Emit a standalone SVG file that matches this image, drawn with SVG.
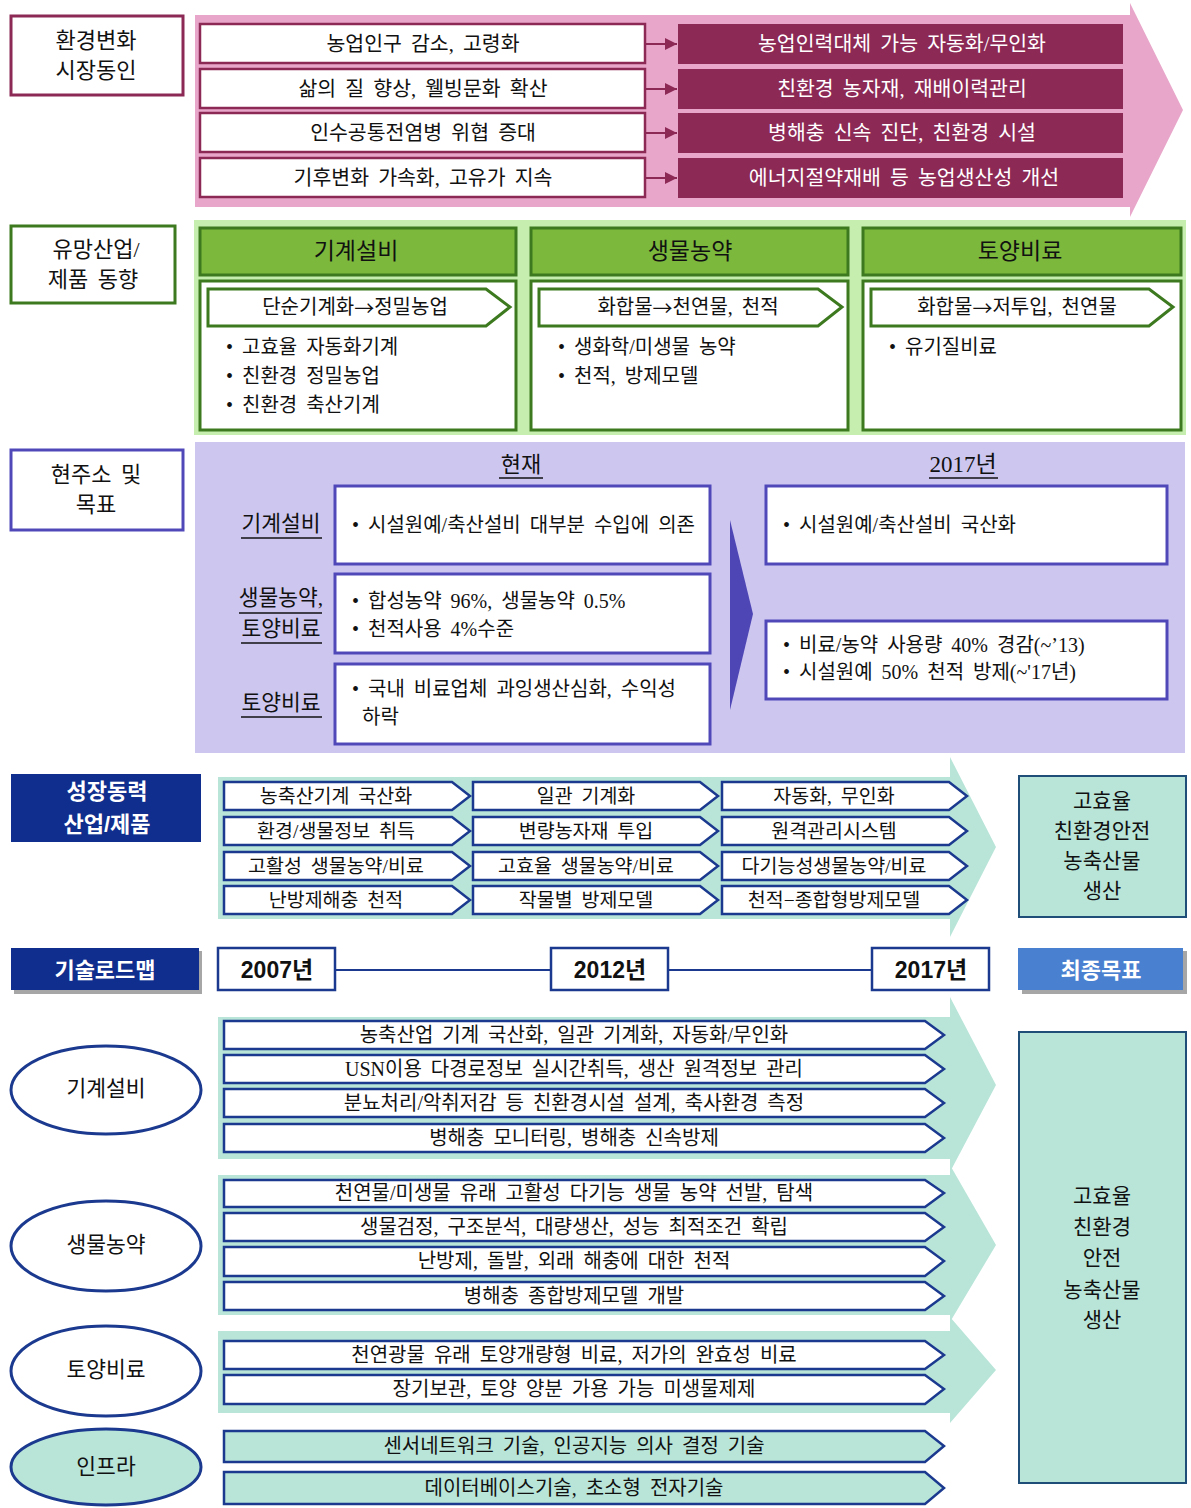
<svg xmlns="http://www.w3.org/2000/svg" width="1191" height="1508" viewBox="0 0 1191 1508">
<defs>
<style>
.k{font-family:"Liberation Serif","Noto Sans CJK KR",serif;fill:#111;word-spacing:4px;}
.b{font-family:"Liberation Sans","Noto Sans CJK KR",sans-serif;font-weight:bold;}
.c{text-anchor:middle;dominant-baseline:central;}
.s{dominant-baseline:central;}
.ar{font-family:"Noto Sans CJK KR",sans-serif;}
.mar{fill:none;stroke:#8c2955;stroke-width:3;}
.wrow{fill:#fff;stroke:#8c2955;stroke-width:2.5;}
.mrow{fill:#8c2955;}
.grn{fill:#fff;stroke:#3d7a1f;stroke-width:3;}
.ghd{fill:#7cb83c;stroke:#3d7a1f;stroke-width:3;}
.pur{fill:#fff;stroke:#5048b9;stroke-width:3;}
.pent{fill:#fff;stroke:#1b3a8f;stroke-width:2.5;}
.pentm{fill:#b9e5d9;stroke:#1b3a8f;stroke-width:2.5;}
.mint{fill:#b9e5d9;}
.ul{stroke:#111;stroke-width:1.5;}
.conn{stroke:#8c2955;stroke-width:2;fill:none;}
.tl{stroke:#1b3a8f;stroke-width:2;fill:none;}
</style>
<marker id="ah" viewBox="0 0 10 10" refX="10" refY="5" markerWidth="6" markerHeight="6" orient="auto"><path d="M0,0 L10,5 L0,10 z" fill="#8c2955"/></marker>
</defs>
<rect width="1191" height="1508" fill="#fff"/>

<!-- Section 1 -->
<g id="sec1-label"><rect x="11" y="16" width="172" height="79" class="mar" fill="#fff"/>
<text class="k c" x="96" y="40" font-size="22">환경변화</text><text class="k c" x="96" y="70" font-size="22">시장동인</text></g>
<g id="sec1-band"><polygon points="195,15 1130,15 1130,3 1183,110 1130,217 1130,207 195,207" fill="#e8a7ca"/></g>
<g id="sec1-drivers">
<rect x="200" y="24" width="445" height="39" class="wrow"/><text class="k c" x="423" y="44" font-size="20.5">농업인구 감소, 고령화</text>
<rect x="200" y="69" width="445" height="39" class="wrow"/><text class="k c" x="423" y="89" font-size="20.5">삶의 질 향상, 웰빙문화 확산</text>
<rect x="200" y="113" width="445" height="39" class="wrow"/><text class="k c" x="423" y="133" font-size="20.5">인수공통전염병 위협 증대</text>
<rect x="200" y="158" width="445" height="39" class="wrow"/><text class="k c" x="423" y="178" font-size="20.5">기후변화 가속화, 고유가 지속</text>
</g>
<g id="sec1-needs">
<rect x="678" y="24" width="445" height="40" class="mrow"/><text class="k c" x="902" y="44" font-size="20.5" style="fill:#fff">농업인력대체 가능 자동화/무인화</text>
<rect x="678" y="69" width="445" height="40" class="mrow"/><text class="k c" x="902" y="89" font-size="20.5" style="fill:#fff">친환경 농자재, 재배이력관리</text>
<rect x="678" y="113" width="445" height="40" class="mrow"/><text class="k c" x="902" y="133" font-size="20.5" style="fill:#fff">병해충 신속 진단, 친환경 시설</text>
<rect x="678" y="158" width="445" height="40" class="mrow"/><text class="k c" x="904" y="178" font-size="20.5" style="fill:#fff">에너지절약재배 등 농업생산성 개선</text>
</g>

<!-- Section 2 -->
<g id="sec2-label"><rect x="11" y="226" width="164" height="77" class="grn"/>
<text class="k c" x="96" y="249" font-size="22">유망산업/</text><text class="k c" x="93" y="279" font-size="22">제품 동향</text></g>
<g id="sec2-band"><rect x="194" y="220" width="992" height="215" fill="#c6efaf"/></g>
<g id="sec2-col1">
<rect x="200" y="228" width="316" height="47" class="ghd"/><text class="k c" x="356" y="251" font-size="23">기계설비</text>
<rect x="200" y="281" width="316" height="149" class="grn"/>
<polygon points="208,289 486,289 510,307 486,326 208,326" class="grn"/>
<text class="k c" x="355" y="307" font-size="20">단순기계화<tspan class="ar">→</tspan>정밀농업</text>
<text class="k s" x="226" y="347" font-size="20">• 고효율 자동화기계</text>
<text class="k s" x="226" y="376" font-size="20">• 친환경 정밀농업</text>
<text class="k s" x="226" y="405" font-size="20">• 친환경 축산기계</text>
</g>
<g id="sec2-col2">
<rect x="531" y="228" width="317" height="47" class="ghd"/><text class="k c" x="690" y="251" font-size="23">생물농약</text>
<rect x="531" y="281" width="317" height="149" class="grn"/>
<polygon points="539,289 818,289 842,307 818,326 539,326" class="grn"/>
<text class="k c" x="688" y="307" font-size="20">화합물<tspan class="ar">→</tspan>천연물, 천적</text>
<text class="k s" x="558" y="347" font-size="20">• 생화학/미생물 농약</text>
<text class="k s" x="558" y="376" font-size="20">• 천적, 방제모델</text>
</g>
<g id="sec2-col3">
<rect x="863" y="228" width="318" height="47" class="ghd"/><text class="k c" x="1020" y="251" font-size="23">토양비료</text>
<rect x="863" y="281" width="318" height="149" class="grn"/>
<polygon points="871,289 1149,289 1173,307 1149,326 871,326" class="grn"/>
<text class="k c" x="1017" y="307" font-size="20">화합물<tspan class="ar">→</tspan>저투입, 천연물</text>
<text class="k s" x="889" y="347" font-size="20">• 유기질비료</text>
</g>

<!-- Section 3 -->
<g id="sec3-label"><rect x="11" y="450" width="172" height="80" fill="#fff" stroke="#5048b9" stroke-width="3"/>
<text class="k c" x="96" y="474" font-size="22">현주소 및</text><text class="k c" x="96" y="504" font-size="22">목표</text></g>
<g id="sec3-band"><rect x="195" y="442" width="990" height="311" fill="#cdc7f0"/></g>
<g id="sec3-heads">
<text class="k c" x="521" y="464" font-size="22">현재</text><line x1="499" y1="478" x2="543" y2="478" class="ul"/>
<text class="k c" x="963" y="464" font-size="23">2017년</text><line x1="929" y1="478" x2="998" y2="478" class="ul"/>
<text class="k c" x="281" y="524" font-size="21.5">기계설비</text><line x1="241" y1="538" x2="322" y2="538" class="ul"/>
<text class="k c" x="281" y="598" font-size="21.5">생물농약,</text><line x1="239" y1="613" x2="322" y2="613" class="ul"/>
<text class="k c" x="281" y="629" font-size="21.5">토양비료</text><line x1="241" y1="643" x2="322" y2="643" class="ul"/>
<text class="k c" x="281" y="703" font-size="21.5">토양비료</text><line x1="241" y1="717" x2="322" y2="717" class="ul"/>
</g>
<g id="sec3-now">
<rect x="335" y="486" width="375" height="78" class="pur"/>
<text class="k s" x="352" y="525" font-size="20">• 시설원예/축산설비 대부분 수입에 의존</text>
<rect x="335" y="574" width="375" height="79" class="pur"/>
<text class="k s" x="352" y="601" font-size="20">• 합성농약 96%, 생물농약 0.5%</text>
<text class="k s" x="352" y="629" font-size="20">• 천적사용 4%수준</text>
<rect x="335" y="664" width="375" height="80" class="pur"/>
<text class="k s" x="352" y="689" font-size="20">• 국내 비료업체 과잉생산심화, 수익성</text>
<text class="k s" x="362" y="717" font-size="20">하락</text>
</g>
<g id="sec3-arrow"><polygon points="730,520 753,614 730,710" fill="#4f46b5"/></g>
<g id="sec3-goal">
<rect x="766" y="486" width="401" height="78" class="pur"/>
<text class="k s" x="783" y="525" font-size="20">• 시설원예/축산설비 국산화</text>
<rect x="766" y="621" width="401" height="78" class="pur"/>
<text class="k s" x="783" y="645" font-size="20">• 비료/농약 사용량 40% 경감(~’13)</text>
<text class="k s" x="783" y="672" font-size="20">• 시설원예 50% 천적 방제(~'17년)</text>
</g>

<!-- Section 4 -->
<g id="sec4-label"><rect x="11" y="774" width="190" height="68" fill="#102e8d"/>
<text class="b c" x="107" y="791" font-size="22" fill="#fff">성장동력</text><text class="b c" x="107" y="824" font-size="22" fill="#fff">산업/제품</text></g>
<g id="sec4-band"><polygon points="218,777 950,777 950,757 996,847 950,937 950,919 218,919" class="mint"/></g>
<g id="sec4-items">
<polygon points="224,782 452,782 470,796 452,810 224,810" class="pent"/><text class="k c" x="336" y="796" font-size="19.5">농축산기계 국산화</text>
<polygon points="473,782 700,782 718,796 700,810 473,810" class="pent"/><text class="k c" x="586" y="796" font-size="19.5">일관 기계화</text>
<polygon points="722,782 949,782 967,796 949,810 722,810" class="pent"/><text class="k c" x="834" y="796" font-size="19.5">자동화, 무인화</text>
<polygon points="224,817 452,817 470,831 452,845 224,845" class="pent"/><text class="k c" x="336" y="831" font-size="19.5">환경/생물정보 취득</text>
<polygon points="473,817 700,817 718,831 700,845 473,845" class="pent"/><text class="k c" x="586" y="831" font-size="19.5">변량농자재 투입</text>
<polygon points="722,817 949,817 967,831 949,845 722,845" class="pent"/><text class="k c" x="834" y="831" font-size="19.5">원격관리시스템</text>
<polygon points="224,852 452,852 470,866 452,880 224,880" class="pent"/><text class="k c" x="336" y="866" font-size="19.5">고활성 생물농약/비료</text>
<polygon points="473,852 700,852 718,866 700,880 473,880" class="pent"/><text class="k c" x="586" y="866" font-size="19.5">고효율 생물농약/비료</text>
<polygon points="722,852 949,852 967,866 949,880 722,880" class="pent"/><text class="k c" x="834" y="866" font-size="19.5">다기능성생물농약/비료</text>
<polygon points="224,886 452,886 470,900 452,914 224,914" class="pent"/><text class="k c" x="336" y="900" font-size="19.5">난방제해충 천적</text>
<polygon points="473,886 700,886 718,900 700,914 473,914" class="pent"/><text class="k c" x="586" y="900" font-size="19.5">작물별 방제모델</text>
<polygon points="722,886 949,886 967,900 949,914 722,914" class="pent"/><text class="k c" x="834" y="900" font-size="19.5">천적−종합형방제모델</text>
</g>
<g id="sec4-target"><rect x="1019" y="776" width="167" height="141" fill="#b9e5d9" stroke="#1f4e79" stroke-width="2"/>
<text class="k c" x="1102" y="801" font-size="21">고효율</text><text class="k c" x="1102" y="831" font-size="21">친환경안전</text>
<text class="k c" x="1102" y="861" font-size="21">농축산물</text><text class="k c" x="1102" y="891" font-size="21">생산</text></g>

<!-- Section 5 timeline -->
<g id="roadmap-label"><rect x="14" y="951" width="188" height="43" fill="#a6a6a6"/><rect x="11" y="948" width="188" height="42" fill="#102e8d"/>
<text class="b c" x="105" y="970" font-size="22" fill="#fff">기술로드맵</text></g>
<g id="year-2007"><rect x="218" y="948" width="117" height="42" fill="#fff" stroke="#1b3a8f" stroke-width="2.5"/><text class="b c" x="277" y="970" font-size="23" fill="#111">2007년</text></g>
<g id="year-2012"><rect x="551" y="948" width="117" height="42" fill="#fff" stroke="#1b3a8f" stroke-width="2.5"/><text class="b c" x="610" y="970" font-size="23" fill="#111">2012년</text></g>
<g id="year-2017"><rect x="872" y="948" width="117" height="42" fill="#fff" stroke="#1b3a8f" stroke-width="2.5"/><text class="b c" x="931" y="970" font-size="23" fill="#111">2017년</text></g>
<g id="final-label"><rect x="1022" y="951" width="165" height="43" fill="#a6a6a6"/><rect x="1018" y="948" width="165" height="42" fill="#4a80d0"/>
<text class="b c" x="1101" y="970" font-size="22" fill="#fff">최종목표</text></g>

<!-- Section 6 roadmap -->
<g id="band-machine"><polygon points="218,1017 950,1017 950,997 996,1085 950,1172 950,1159 218,1159" class="mint"/></g>
<g id="band-bio"><polygon points="218,1175 950,1175 950,1165 996,1245 950,1322 950,1315 218,1315" class="mint"/></g>
<g id="band-soil"><polygon points="218,1331 950,1331 950,1317 996,1370 950,1423 950,1413 218,1413" class="mint"/></g>

<g id="node-machine"><ellipse cx="106" cy="1090" rx="95" ry="44" fill="#fff" stroke="#1b3a8f" stroke-width="3"/><text class="k c" x="106" y="1089" font-size="21.5">기계설비</text></g>
<g id="node-bio"><ellipse cx="106" cy="1246" rx="95" ry="45" fill="#fff" stroke="#1b3a8f" stroke-width="3"/><text class="k c" x="106" y="1245" font-size="21.5">생물농약</text></g>
<g id="node-soil"><ellipse cx="106" cy="1371" rx="95" ry="45" fill="#fff" stroke="#1b3a8f" stroke-width="3"/><text class="k c" x="106" y="1370" font-size="21.5">토양비료</text></g>
<g id="node-infra"><ellipse cx="106" cy="1467" rx="95" ry="38" fill="#b9e5d9" stroke="#1b3a8f" stroke-width="3"/><text class="k c" x="106" y="1467" font-size="21.5">인프라</text></g>

<g id="rm-machine">
<polygon points="224,1021 925,1021 944,1035 925,1049 224,1049" class="pent"/><text class="k c" x="574" y="1035" font-size="20">농축산업 기계 국산화, 일관 기계화, 자동화/무인화</text>
<polygon points="224,1055 925,1055 944,1069 925,1083 224,1083" class="pent"/><text class="k c" x="574" y="1069" font-size="20">USN이용 다경로정보 실시간취득, 생산 원격정보 관리</text>
<polygon points="224,1089 925,1089 944,1103 925,1117 224,1117" class="pent"/><text class="k c" x="574" y="1103" font-size="20">분뇨처리/악취저감 등 친환경시설 설계, 축사환경 측정</text>
<polygon points="224,1124 925,1124 944,1138 925,1152 224,1152" class="pent"/><text class="k c" x="574" y="1138" font-size="20">병해충 모니터링, 병해충 신속방제</text>
</g>
<g id="rm-bio">
<polygon points="224,1180 925,1180 944,1193 925,1207 224,1207" class="pent"/><text class="k c" x="574" y="1193" font-size="20">천연물/미생물 유래 고활성 다기능 생물 농약 선발, 탐색</text>
<polygon points="224,1213 925,1213 944,1227 925,1241 224,1241" class="pent"/><text class="k c" x="574" y="1227" font-size="20">생물검정, 구조분석, 대량생산, 성능 최적조건 확립</text>
<polygon points="224,1247 925,1247 944,1261 925,1276 224,1276" class="pent"/><text class="k c" x="574" y="1261" font-size="20">난방제, 돌발, 외래 해충에 대한 천적</text>
<polygon points="224,1282 925,1282 944,1296 925,1310 224,1310" class="pent"/><text class="k c" x="574" y="1296" font-size="20">병해충 종합방제모델 개발</text>
</g>
<g id="rm-soil">
<polygon points="224,1341 925,1341 944,1355 925,1369 224,1369" class="pent"/><text class="k c" x="574" y="1355" font-size="20">천연광물 유래 토양개량형 비료, 저가의 완효성 비료</text>
<polygon points="224,1375 925,1375 944,1389 925,1404 224,1404" class="pent"/><text class="k c" x="574" y="1389" font-size="20">장기보관, 토양 양분 가용 가능 미생물제제</text>
</g>
<g id="rm-infra">
<polygon points="224,1431 925,1431 944,1446 925,1462 224,1462" class="pentm"/><text class="k c" x="574" y="1446" font-size="20">센서네트워크 기술, 인공지능 의사 결정 기술</text>
<polygon points="224,1472 925,1472 944,1488 925,1504 224,1504" class="pentm"/><text class="k c" x="574" y="1488" font-size="20">데이터베이스기술, 초소형 전자기술</text>
</g>
<g id="final-goal"><rect x="1019" y="1032" width="167" height="451" fill="#b9e5d9" stroke="#1f4e79" stroke-width="2"/>
<text class="k c" x="1102" y="1196" font-size="21">고효율</text><text class="k c" x="1102" y="1227" font-size="21">친환경</text>
<text class="k c" x="1102" y="1258" font-size="21">안전</text><text class="k c" x="1102" y="1290" font-size="21">농축산물</text>
<text class="k c" x="1102" y="1320" font-size="21">생산</text></g>

<!-- Connectors -->
<g id="connectors">
<line x1="645" y1="44" x2="677" y2="44" class="conn" marker-end="url(#ah)"/>
<line x1="645" y1="89" x2="677" y2="89" class="conn" marker-end="url(#ah)"/>
<line x1="645" y1="133" x2="677" y2="133" class="conn" marker-end="url(#ah)"/>
<line x1="645" y1="178" x2="677" y2="178" class="conn" marker-end="url(#ah)"/>
<line x1="335" y1="970" x2="551" y2="970" class="tl"/>
<line x1="668" y1="970" x2="872" y2="970" class="tl"/>
</g>
</svg>
